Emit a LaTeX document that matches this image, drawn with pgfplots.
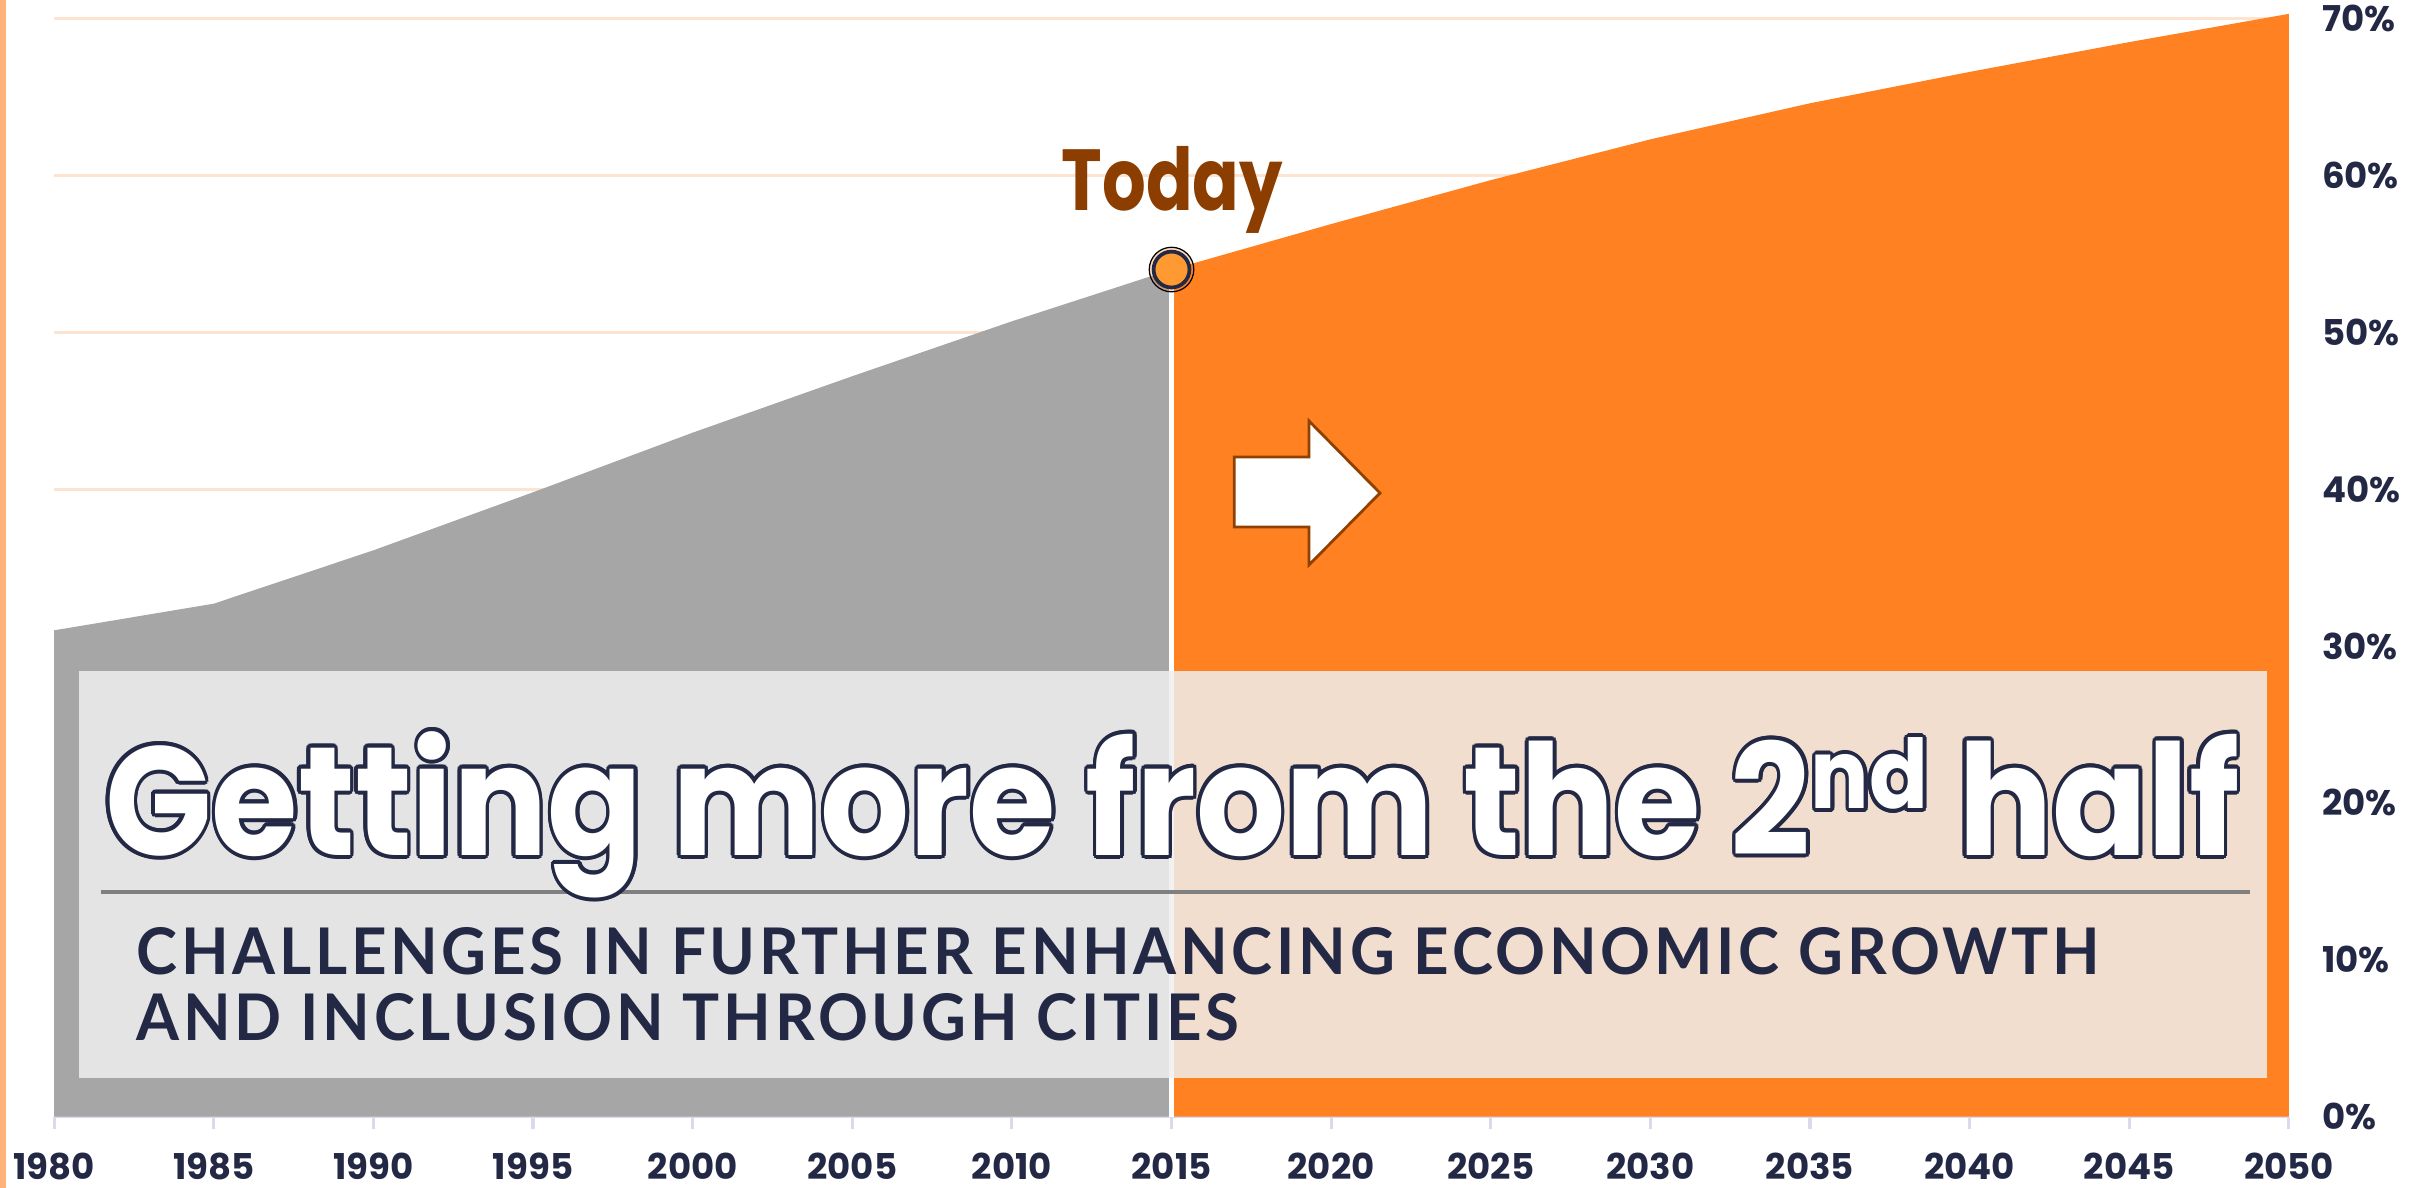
\documentclass[border=0pt]{standalone}
\usepackage{pgfplots}
\usepackage{pgfplotstable}
\pgfplotsset{compat=1.18}
\usepackage{fontspec}
\usepackage{contour}
\setmainfont{Lato}
\newfontfamily\popfont{Poppins}
\newfontfamily\subfont{Lato}[LetterSpace=6]
\contourlength{1.3pt}
\contournumber{16}
\definecolor{grayarea}{HTML}{A6A6A6}
\definecolor{orangearea}{HTML}{FF8122}
\definecolor{navy}{HTML}{232845}
\definecolor{brownT}{HTML}{8C3D00}
\definecolor{arrowc}{HTML}{8F4200}
\definecolor{gridc}{HTML}{FDE3D0}
\definecolor{axisc}{HTML}{D9DAEC}
\definecolor{edgec}{HTML}{FFB27A}
\definecolor{markc}{HTML}{FF9A33}
\definecolor{boxc}{HTML}{F0F0F0}
\definecolor{rulec}{HTML}{808080}

\pgfplotstableread{
year val
1980 31.0
1985 32.7
1990 36.1
1995 39.8
2000 43.6
2005 47.2
2010 50.7
2015 54.0
}\pastdata
\pgfplotstableread{
year val
2015 54.0
2020 56.9
2025 59.7
2030 62.3
2035 64.6
2040 66.6
2045 68.5
2050 70.3
}\futuredata

\begin{document}
\begin{tikzpicture}[x=1pt,y=1pt]
\useasboundingbox (-17.5,-23) rectangle (766.5,361);
\fill[edgec] (-17.5,-23) rectangle (-15.5,361);
\begin{axis}[
  at={(0,0)}, anchor=south west,
  scale only axis, width=722.5pt, height=355pt,
  xmin=1980, xmax=2050, ymin=0, ymax=70,
  clip=false,
  axis x line*=bottom,
  axis y line*=right,
  x axis line style={axisc, line width=1.2pt, -},
  y axis line style={draw=none},
  xtick={1980,1985,...,2050},
  ytick={0,10,...,70},
  xtick style={axisc, line width=1pt},
  ytick style={draw=none},
  tick align=outside,
  major tick length=4pt,
  ymajorgrids,
  grid style={gridc, line width=0.9pt},
  xticklabel={\pgfmathprintnumber[assume math mode=true,1000 sep={}]{\tick}},
  yticklabel={\pgfmathprintnumber[assume math mode=true]{\tick}\%},
  xticklabel style={font=\popfont\bfseries\fontsize{11.5}{12}\selectfont, text=navy, anchor=base, inner sep=0pt, yshift=-16.3pt},
  yticklabel style={font=\popfont\bfseries\fontsize{11.5}{12}\selectfont, text=navy, anchor=west, inner sep=0pt, xshift=6.5pt},
]
\addplot[fill=grayarea, draw=none] table[x=year,y=val]{\pastdata} \closedcycle;
\addplot[fill=orangearea, draw=none] table[x=year,y=val]{\futuredata} \closedcycle;
\addplot[white, line width=1.5pt] coordinates {(2015,0) (2015,54.0)};
\addplot[only marks, mark=*, mark size=7.2pt, mark options={draw=none, fill=orangearea, fill opacity=0.3}] coordinates {(2015,54.0)};
\addplot[only marks, mark=*, mark size=5.8pt, mark options={fill=markc, draw=navy, line width=1.2pt}] coordinates {(2015,54.0)};
\end{axis}
% overlay panel
\fill[boxc, fill opacity=0.84] (8,12.5) rectangle (715.5,144);
\draw[rulec, line width=1.3pt] (15,72.5) -- (710,72.5);
\node[anchor=base, inner sep=0pt] at (361.5,84.5) {\resizebox{690pt}{\height}{\popfont\bfseries\fontsize{50}{50}\selectfont\color{white}\contour{navy}{Getting more from the 2\raisebox{15pt}{\fontsize{31}{31}\selectfont nd} half}}};
\node[anchor=base west, inner sep=0pt, text=navy] at (26.5,46) {\resizebox{634.5pt}{\height}{\subfont\bfseries\fontsize{20.8}{21}\selectfont\begin{tabular}[t]{@{}l@{}}CHALLENGES IN FURTHER ENHANCING ECONOMIC GROWTH\\AND INCLUSION THROUGH CITIES\end{tabular}}};
% arrow
\draw[fill=white, draw=arrowc, line width=0.9pt, line join=miter] (381.5,213.25) -- (405.7,213.25) -- (405.7,224.9) -- (428.65,201.6) -- (405.7,178.35) -- (405.7,190.6) -- (381.5,190.6) -- cycle;
% Today
\node[anchor=base, text=brownT, inner sep=0pt] at (361.5,293) {\resizebox{71.5pt}{\height}{\popfont\bfseries\fontsize{28}{28}\selectfont Today}};
\end{tikzpicture}
\end{document}
